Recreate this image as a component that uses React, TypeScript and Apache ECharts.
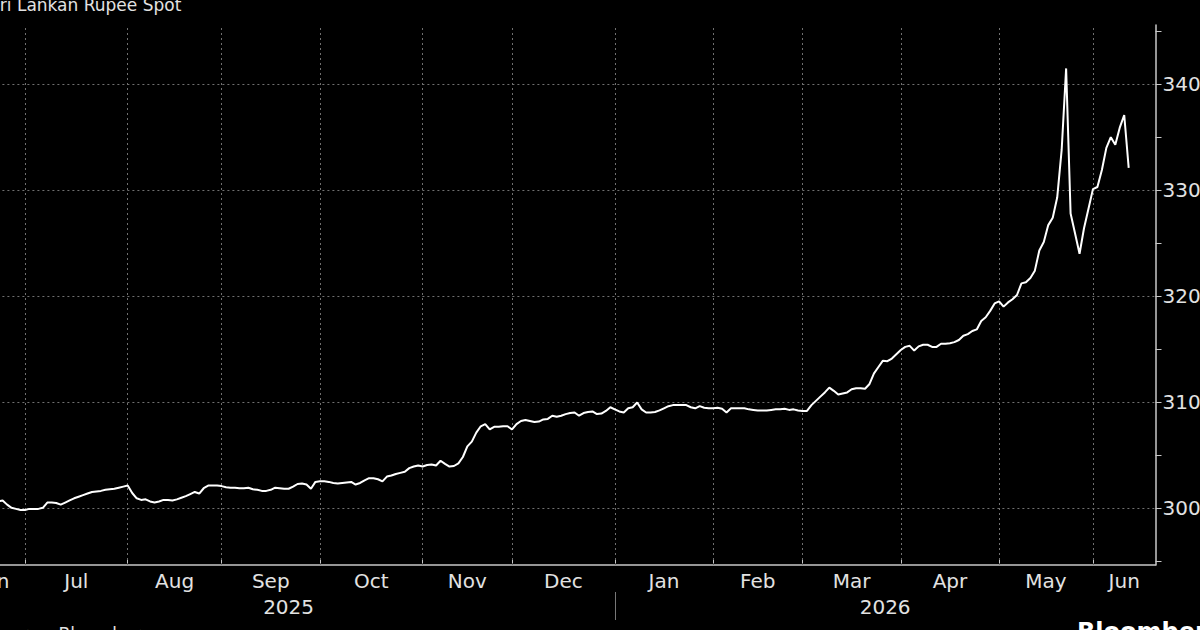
import React, { useEffect, useRef } from "react";
import * as echarts from "echarts";

const START_DATE = "2025-06-11";
const X_PAD_DAYS = 6;

const spotValues: number[] = [
  300.9, 300.8, 300.6, 300.7, 300.6, 300.5, 300.6, 300.5, 300.6, 300.7,
  300.3, 300.0, 299.9, 299.8, 299.8, 299.9, 299.9, 299.9, 300.0, 300.5,
  300.5, 300.45, 300.3, 300.5, 300.7, 300.9, 301.05, 301.2, 301.35, 301.5,
  301.55, 301.6, 301.7, 301.75, 301.8, 301.9, 302.0, 302.1, 301.4, 300.9,
  300.75, 300.8, 300.6, 300.5, 300.6, 300.75, 300.75, 300.7, 300.8, 300.95,
  301.1, 301.3, 301.5, 301.35, 301.85, 302.1, 302.1, 302.1, 302.05, 301.95,
  301.9, 301.9, 301.85, 301.85, 301.9, 301.75, 301.7, 301.6, 301.6, 301.7,
  301.9, 301.85, 301.8, 301.8, 302.0, 302.25, 302.3, 302.2, 301.8, 302.45,
  302.5, 302.5, 302.45, 302.35, 302.3, 302.35, 302.4, 302.45, 302.2, 302.35,
  302.6, 302.8, 302.8, 302.7, 302.5, 302.95, 303.05, 303.2, 303.3, 303.4,
  303.75, 303.9, 304.0, 303.9, 304.05, 304.1, 304.0, 304.45, 304.15, 303.9,
  303.95, 304.2, 304.8, 305.8, 306.25, 307.1, 307.7, 307.9, 307.4, 307.65,
  307.65, 307.7, 307.7, 307.4, 307.9, 308.2, 308.3, 308.2, 308.1, 308.15,
  308.35, 308.4, 308.7, 308.6, 308.7, 308.85, 308.95, 309.0, 308.7, 308.95,
  309.05, 309.1, 308.85, 308.9, 309.15, 309.5, 309.3, 309.1, 309.0, 309.4,
  309.5, 309.95, 309.3, 309.0, 309.0, 309.05, 309.2, 309.4, 309.6, 309.7,
  309.7, 309.7, 309.7, 309.5, 309.4, 309.6, 309.45, 309.4, 309.4, 309.45,
  309.35, 309.0, 309.4, 309.4, 309.4, 309.4, 309.3, 309.25, 309.2, 309.2,
  309.2, 309.25, 309.3, 309.3, 309.35, 309.25, 309.3, 309.2, 309.15, 309.15,
  309.7, 310.1, 310.5, 310.9, 311.35, 311.05, 310.7, 310.8, 310.9, 311.2,
  311.3, 311.3, 311.25, 311.7, 312.7, 313.3, 313.9, 313.85, 314.1, 314.5,
  314.9, 315.2, 315.3, 314.85, 315.25, 315.4, 315.4, 315.2, 315.2, 315.5,
  315.5, 315.55, 315.65, 315.85, 316.25, 316.4, 316.7, 316.85, 317.65, 318.0,
  318.6, 319.3, 319.5, 319.0, 319.4, 319.7, 320.1, 321.2, 321.3, 321.7,
  322.4, 324.3, 325.1, 326.7, 327.4, 329.3, 333.8, 341.5, 327.8, 325.9,
  324.0, 326.4, 328.25, 330.1, 330.3, 331.9, 334.0, 335.0, 334.3, 335.9,
  337.1, 332.1,
];

const yTickValues: number[] = [295, 300, 305, 310, 315, 320, 325, 330, 335, 340, 345];
const yLabelValues: number[] = [300, 310, 320, 330, 340];
const monthNames: string[] = ["Jan", "Feb", "Mar", "Apr", "May", "Jun", "Jul", "Aug", "Sep", "Oct", "Nov", "Dec"];

const TITLE = "Sri Lankan Rupee Spot";
const SOURCE = "Source: Bloomberg";
const BRAND = "Bloomberg";

function buildWeekdays(start: string, count: number): string[] {
  const d = new Date(start + "T00:00:00Z");
  const out: string[] = [];
  while (out.length < count) {
    const wd = d.getUTCDay();
    if (wd !== 0 && wd !== 6) out.push(d.toISOString().slice(0, 10));
    d.setUTCDate(d.getUTCDate() + 1);
  }
  return out;
}

const dates = buildWeekdays(START_DATE, spotValues.length + X_PAD_DAYS);
const xMax = dates.length - 1;

function segments(keyLen: number) {
  const segs: { key: string; start: number }[] = [];
  dates.forEach((d, i) => {
    const k = d.slice(0, keyLen);
    if (!segs.length || segs[segs.length - 1].key !== k) segs.push({ key: k, start: i });
  });
  return segs.map((s, k) => {
    const end = k + 1 < segs.length ? segs[k + 1].start : xMax;
    return { key: s.key, start: s.start, mid: (s.start + end) / 2 };
  });
}

const monthSegs = segments(7);
const yearSegs = segments(4);
const monthStarts = monthSegs.filter((s) => s.start > 0).map((s) => s.start);
const yearStarts = yearSegs.filter((s) => s.start > 0).map((s) => s.start);

const FONT = "DejaVu Sans";
const TEXT_COLOR = "#e2e2e2";
const AXIS_COLOR = "#c8c8c8";

export default function App() {
  const ref = useRef<HTMLDivElement>(null);
  useEffect(() => {
    if (!ref.current) return;
    const chart = echarts.init(ref.current, undefined, { renderer: "svg" });
    const monthLabel = (v: number) => {
      const s = monthSegs.find((m) => Math.abs(m.mid - v) < 1e-6);
      return s ? monthNames[parseInt(s.key.slice(5, 7), 10) - 1] : "";
    };
    const yearLabel = (v: number) => {
      const s = yearSegs.find((m) => Math.abs(m.mid - v) < 1e-6);
      return s ? s.key : "";
    };
    chart.setOption({
      animation: false,
      backgroundColor: "#000000",
      grid: {
        left: -37.6,
        right: 44.5,
        top: 25,
        bottom: 65,
        containLabel: false,
        outerBoundsMode: "none",
      },
      xAxis: [
        {
          type: "value",
          min: 0,
          max: xMax,
          position: "bottom",
          axisLine: { show: true, onZero: false, lineStyle: { color: AXIS_COLOR, width: 1.5 } },
          axisTick: { show: true, inside: true, length: 5, customValues: monthStarts, lineStyle: { color: AXIS_COLOR } },
          axisLabel: {
            customValues: monthSegs.map((s) => s.mid),
            formatter: (v: number) => monthLabel(v),
            color: TEXT_COLOR,
            fontSize: 20,
            fontFamily: FONT,
            margin: 6,
          },
          splitLine: { show: false },
        },
        {
          type: "value",
          min: 0,
          max: xMax,
          position: "bottom",
          offset: 27,
          axisLine: { show: false, onZero: false },
          axisTick: { show: true, length: 28, customValues: yearStarts, lineStyle: { color: "#777777" } },
          axisLabel: {
            customValues: yearSegs.map((s) => s.mid),
            formatter: (v: number) => yearLabel(v),
            color: TEXT_COLOR,
            fontSize: 20,
            fontFamily: FONT,
            margin: 5,
          },
          splitLine: { show: false },
        },
      ],
      yAxis: {
        type: "value",
        position: "right",
        min: 294.6,
        max: 345.6,
        axisLine: { show: true, onZero: false, lineStyle: { color: AXIS_COLOR, width: 1.5 } },
        axisTick: { show: true, length: 6, customValues: yTickValues, lineStyle: { color: AXIS_COLOR } },
        axisLabel: {
          customValues: yLabelValues,
          color: TEXT_COLOR,
          fontSize: 20,
          fontFamily: FONT,
          margin: 7,
        },
        splitLine: { show: false },
      },
      series: [
        {
          type: "line",
          name: "grid",
          z: 1,
          silent: true,
          data: spotValues.map((v, i) => [i, v]),
          showSymbol: false,
          lineStyle: { opacity: 0 },
          markLine: {
            z: 1,
            silent: true,
            symbol: ["none", "none"],
            label: { show: false },
            lineStyle: { color: "#707070", type: [2, 3], width: 1 },
            data: [
              ...monthStarts.map((m) => ({ xAxis: m })),
              ...yLabelValues.map((v) => ({ yAxis: v })),
            ],
          },
        },
        {
          type: "line",
          name: TITLE,
          z: 3,
          data: spotValues.map((v, i) => [i, v]),
          showSymbol: false,
          lineStyle: { color: "#ffffff", width: 2 },
        },
      ],
      graphic: [
        {
          type: "text",
          left: -11,
          top: -4,
          style: { text: TITLE, fill: TEXT_COLOR, fontSize: 17, fontFamily: FONT },
        },
        {
          type: "text",
          left: -11,
          top: 625,
          style: { text: SOURCE, fill: TEXT_COLOR, fontSize: 17, fontFamily: FONT },
        },
        {
          type: "text",
          left: 1077,
          top: 620,
          style: { text: BRAND, fill: "#ffffff", fontSize: 24, fontWeight: "bold", fontFamily: FONT },
        },
      ],
    });
    return () => chart.dispose();
  }, []);
  return (
    <div
      ref={ref}
      style={{ position: "fixed", left: 0, top: 0, width: 1200, height: 630, background: "#000" }}
    />
  );
}
